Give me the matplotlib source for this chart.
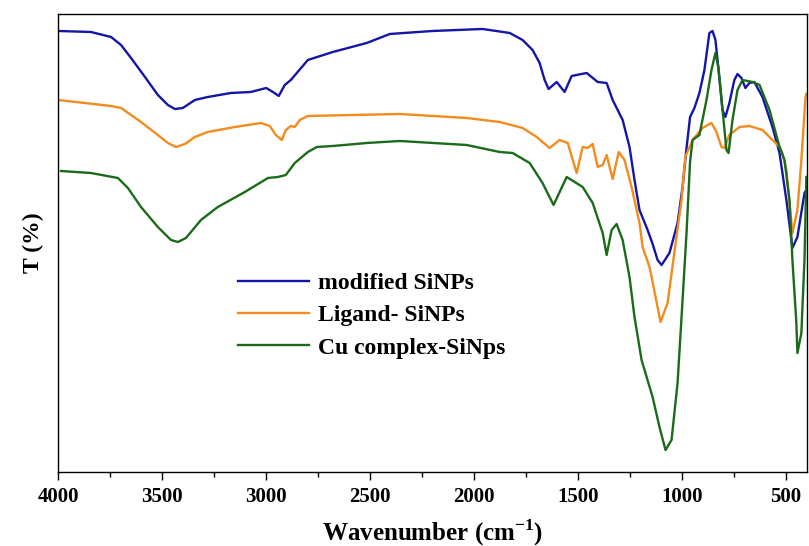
import matplotlib.pyplot as plt
from matplotlib.ticker import MultipleLocator

# FTIR spectra, transmittance in arbitrary units
wn_modified = [4000, 3842, 3745, 3697, 3649, 3582, 3520, 3472, 3438, 3400, 3342, 3280, 3169, 3073,
               2999, 2967, 2939, 2910, 2881, 2799, 2679, 2516, 2405, 2199, 1959, 1829, 1767, 1719,
               1685, 1661, 1642, 1603, 1565, 1531, 1459, 1406, 1363, 1334, 1286, 1253, 1229, 1205,
               1166, 1142, 1118, 1099, 1061, 1022, 998, 980, 962, 941, 917, 893, 869, 854, 840,
               820, 806, 792, 773, 749, 734, 715, 696, 677, 653, 614, 566, 532, 499, 470, 446,
               412, 403]
t_modified = [441, 440, 435, 427, 414, 395, 377, 367, 363, 364, 372, 375, 379, 380,
              384, 380, 376, 387, 392, 412, 420, 429, 438, 441, 443, 439, 432, 422,
              409, 392, 383, 390, 380, 396, 399, 390, 389, 372, 352, 325, 292, 262,
              242, 228, 212, 207, 219, 249, 285, 322, 355, 364, 379, 402, 439, 441, 432,
              392, 362, 355, 369, 392, 398, 394, 384, 389, 390, 375, 345, 319, 272, 224, 235,
              279, 282]

wn_ligand = [4000, 3745, 3697, 3601, 3520, 3472, 3433, 3390, 3342, 3280, 3150, 3025, 2982, 2953,
             2924, 2905, 2881, 2862, 2838, 2799, 2357, 2036, 1877, 1767, 1699, 1637, 1589, 1550,
             1507, 1478, 1454, 1430, 1406, 1382, 1363, 1334, 1305, 1277, 1243, 1205, 1190, 1157,
             1142, 1104, 1070, 1036, 1003, 985, 950, 902, 859, 835, 811, 797, 773, 724, 677,
             614, 566, 532, 518, 499, 484, 470, 446, 427, 407, 403]
t_ligand = [372, 366, 364, 350, 337, 329, 325, 328, 335, 340, 345, 349, 346, 337,
            332, 342, 346, 345, 352, 356, 358, 354, 350, 344, 335, 324, 332, 329,
            299, 325, 324, 328, 305, 307, 317, 293, 320, 312, 285, 249, 225, 205,
            190, 150, 169, 222, 272, 315, 332, 344, 349, 340, 325, 324, 337, 345, 346,
            342, 332, 325, 319, 302, 269, 239, 262, 312, 375, 378]

wn_cu = [3986, 3842, 3712, 3664, 3601, 3520, 3457, 3424, 3385, 3313, 3232, 3102, 2991, 2943,
         2905, 2862, 2799, 2756, 2679, 2516, 2357, 2036, 1877, 1815, 1733, 1671, 1618, 1555,
         1478, 1430, 1382, 1363, 1339, 1315, 1286, 1253, 1229, 1195, 1142, 1109, 1080, 1051,
         1022, 998, 979, 962, 950, 917, 883, 859, 840, 826, 806, 787, 777, 758, 734, 710,
         662, 628, 580, 532, 508, 484, 470, 451, 446, 427, 412, 403]
t_cu = [301, 299, 294, 284, 265, 245, 232, 230, 234, 252, 265, 280, 294, 295,
        297, 309, 320, 325, 326, 329, 331, 327, 320, 319, 309, 289, 267, 295,
        285, 269, 239, 217, 242, 248, 232, 195, 155, 112, 75, 45, 22, 32,
        89, 172, 239, 310, 332, 337, 372, 402, 419, 405, 362, 322, 319, 352, 382, 392,
        390, 387, 362, 325, 312, 272, 212, 149, 119, 139, 212, 295]

labels = ["modified SiNPs", "Ligand- SiNPs", "Cu complex-SiNps"]
colors = ["#1515a8", "#f28c1e", "#1a6b1a"]

plt.rcParams['font.family'] = ['Liberation Serif', 'DejaVu Serif']
plt.rcParams['font.weight'] = 'bold'
plt.rcParams['mathtext.fontset'] = 'custom'
plt.rcParams['mathtext.rm'] = 'Liberation Serif:bold'
plt.rcParams['mathtext.bf'] = 'Liberation Serif:bold'

fig = plt.figure(figsize=(8.09, 5.46), dpi=100)
ax = fig.add_axes([0.0717, 0.1355, 0.9258, 0.8389])

ax.plot(wn_modified, t_modified, color=colors[0], lw=1.7, label=labels[0])
ax.plot(wn_ligand, t_ligand, color=colors[1], lw=1.7, label=labels[1])
ax.plot(wn_cu, t_cu, color=colors[2], lw=1.7, label=labels[2])

ax.set_xlim(4000, 400)
ax.set_ylim(0, 458)
ax.xaxis.set_major_locator(MultipleLocator(500))
ax.xaxis.set_minor_locator(MultipleLocator(250))
ax.tick_params(axis='x', which='major', direction='out', length=6, width=1, labelsize=15, pad=5)
ax.tick_params(axis='x', which='minor', direction='out', length=3.5, width=1)
ax.set_yticks([])
for s in ax.spines.values():
    s.set_linewidth(1.0)

ax.set_xlabel(r"Wavenumber (cm$^{\mathbf{-1}}$)", fontsize=18, fontweight='bold', labelpad=7)
ax.set_ylabel("T (%)", fontsize=17, fontweight='bold', labelpad=10)

ax.legend(loc='upper left', bbox_to_anchor=(0.24, 0.435), frameon=False,
          borderpad=0, borderaxespad=0, handlelength=3.0, handletextpad=0.4,
          labelspacing=0.45, prop={'size': 17, 'weight': 'bold'})

fig.savefig("out.png", dpi=100)
